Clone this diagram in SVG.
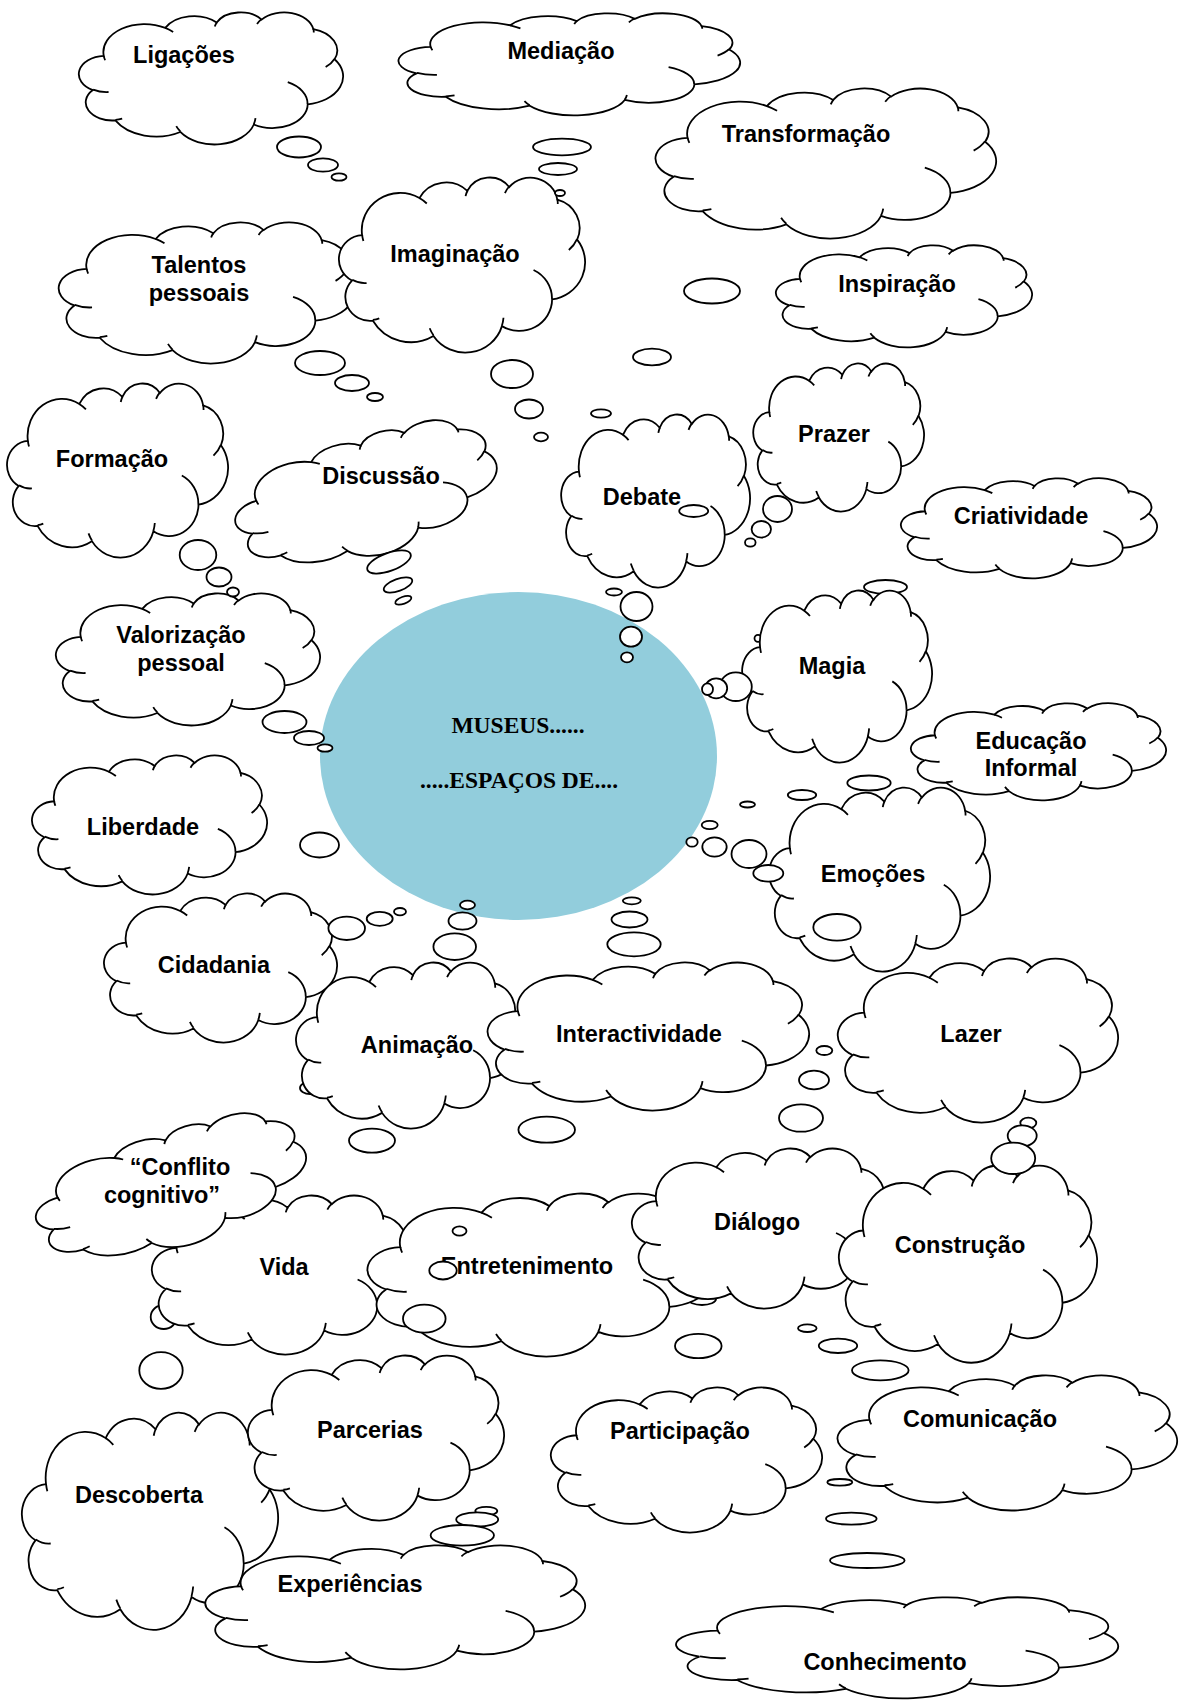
<svg xmlns="http://www.w3.org/2000/svg" xmlns:xlink="http://www.w3.org/1999/xlink" width="1184" height="1702" viewBox="0 0 1184 1702">
<style>
.lb{font-family:"Liberation Sans",Arial,Helvetica,sans-serif;font-weight:700;font-size:23.5px;text-anchor:middle;fill:#000}
.ms{font-family:"Liberation Serif","Times New Roman",serif;font-weight:700;font-size:23.5px;text-anchor:middle;fill:#000}
.t{fill:#fff;stroke:#000;stroke-width:1.8}
</style>
<defs>
<g id="cloud">
<path fill="#fff" stroke="#000" stroke-width="1.8" vector-effect="non-scaling-stroke" d="M9.03,33.26A15.63,21.27 0 0 1 32.42,12.04A12.34,16.82 0 0 1 51.98,7.95A10.10,13.76 0 0 1 69.06,5.74A11.24,15.27 0 0 1 88.70,12.91A12.34,16.84 0 0 1 96.80,35.79A15.68,21.34 0 0 1 86.58,69.92A13.39,18.21 0 0 1 66.10,85.22A15.63,21.33 0 0 1 38.15,90.89A17.87,24.41 0 0 1 13.44,82.11A10.09,13.70 0 0 1 4.89,59.15A10.06,13.76 0 0 1 9.03,33.26Z"/>
<path fill="none" stroke="#000" stroke-width="1.8" vector-effect="non-scaling-stroke" d="M10.86,60.59A10.06,13.76 0 0 1 5.00,58.75M16.04,80.78A10.09,13.70 0 0 1 13.47,81.67M38.14,90.49A15.63,21.33 0 0 1 36.60,86.45M66.73,80.44A15.63,21.33 0 0 1 66.11,84.86M79.00,53.13A13.39,18.21 0 0 1 86.53,69.65M96.75,35.54A12.34,16.84 0 0 1 93.40,41.74M88.71,12.56A11.24,15.27 0 0 1 88.89,15.49M67.31,9.15A11.24,15.27 0 0 1 69.03,5.42M51.25,10.93A10.10,13.76 0 0 1 52.08,7.71M32.41,12.02A15.63,21.27 0 0 1 35.42,15.14M9.55,36.55A15.63,21.27 0 0 1 9.03,33.27"/>
</g>
</defs>
<rect width="1184" height="1702" fill="#fff"/>

<g id="museus">
<ellipse cx="518.5" cy="756" rx="198.5" ry="164" fill="#92CDDC"/>
<text class="ms" x="518" y="733">MUSEUS......</text>
<text class="ms" x="519" y="788">.....ESPAÇOS DE....</text>
</g>

<g id="connectors-back">
<ellipse class="t" cx="885.5" cy="587" rx="21.5" ry="7"/>
<ellipse class="t" cx="758" cy="638.3" rx="3.5" ry="3.5"/>
<ellipse class="t" cx="310" cy="1088" rx="10" ry="6"/>
<ellipse class="t" cx="163.7" cy="1317" rx="13" ry="12"/>
<ellipse class="t" cx="702" cy="1299" rx="14" ry="6"/>
</g>

<g id="ligacoes"><use xlink:href="#cloud" transform="translate(80,12) scale(2.63,1.32)"/><text class="lb" x="184" y="63">Ligações</text></g>
<g id="mediacao"><use xlink:href="#cloud" transform="translate(400,13) scale(3.40,1.02)"/><text class="lb" x="561" y="59">Mediação</text></g>
<g id="transformacao"><use xlink:href="#cloud" transform="translate(657,88) scale(3.39,1.50)"/><text class="lb" x="806" y="142">Transformação</text></g>
<g id="talentos"><use xlink:href="#cloud" transform="translate(60,222) scale(2.95,1.41)"/><text class="lb" x="199" y="273">Talentos</text><text class="lb" x="199" y="301">pessoais</text></g>
<g id="imaginacao"><use xlink:href="#cloud" transform="translate(340,177) scale(2.45,1.75)"/><text class="lb" x="455" y="262">Imaginação</text></g>
<g id="inspiracao"><use xlink:href="#cloud" transform="translate(777,245) scale(2.55,1.02)"/><text class="lb" x="897" y="292">Inspiração</text></g>
<g id="formacao"><use xlink:href="#cloud" transform="translate(8,383) scale(2.20,1.74)"/><text class="lb" x="112" y="467">Formação</text></g>
<g id="discussao"><use xlink:href="#cloud" transform="translate(367,496) rotate(-13) translate(-133,-60) scale(2.66,1.20)"/><text class="lb" x="381" y="484">Discussão</text></g>
<g id="debate"><use xlink:href="#cloud" transform="translate(562,414) scale(1.88,1.73)"/><text class="lb" x="642" y="505">Debate</text></g>
<g id="prazer"><use xlink:href="#cloud" transform="translate(754,363) scale(1.70,1.48)"/><text class="lb" x="834" y="442">Prazer</text></g>
<g id="criatividade"><use xlink:href="#cloud" transform="translate(902,478) scale(2.55,1.00)"/><text class="lb" x="1021" y="524">Criatividade</text></g>
<g id="valorizacao"><use xlink:href="#cloud" transform="translate(57,593) scale(2.63,1.32)"/><text class="lb" x="181" y="643">Valorização</text><text class="lb" x="181" y="671">pessoal</text></g>
<g id="magia"><use xlink:href="#cloud" transform="translate(743,590) scale(1.89,1.72)"/><text class="lb" x="832" y="674">Magia</text></g>
<g id="educacao"><use xlink:href="#cloud" transform="translate(912,703) scale(2.54,0.97)"/><text class="lb" x="1031" y="749">Educação</text><text class="lb" x="1031" y="776">Informal</text></g>
<g id="liberdade"><use xlink:href="#cloud" transform="translate(33,755) scale(2.34,1.39)"/><text class="lb" x="143" y="835">Liberdade</text></g>
<g id="cidadania"><use xlink:href="#cloud" transform="translate(105,893) scale(2.32,1.49)"/><text class="lb" x="214" y="973">Cidadania</text></g>
<g id="emocoes"><use xlink:href="#cloud" transform="translate(770,787) scale(2.20,1.84)"/><text class="lb" x="873" y="882">Emoções</text></g>
<g id="animacao"><use xlink:href="#cloud" transform="translate(297,962) scale(2.23,1.66)"/><text class="lb" x="417" y="1053">Animação</text></g>
<g id="interactividade"><use xlink:href="#cloud" transform="translate(489,962) scale(3.20,1.48)"/><text class="lb" x="639" y="1042">Interactividade</text></g>
<g id="lazer"><use xlink:href="#cloud" transform="translate(839,958) scale(2.79,1.64)"/><text class="lb" x="971" y="1042">Lazer</text></g>
<g id="vida"><use xlink:href="#cloud" transform="translate(153,1195) scale(2.59,1.59)"/><text class="lb" x="284" y="1275">Vida</text></g>
<g id="conflito"><use xlink:href="#cloud" transform="translate(172,1189) rotate(-14) translate(-138,-58) scale(2.76,1.16)"/><text class="lb" x="180" y="1175">“Conflito</text><text class="lb" x="162" y="1203">cognitivo”</text></g>
<g id="entretenimento"><use xlink:href="#cloud" transform="translate(369,1193) scale(3.47,1.63)"/><text class="lb" x="527" y="1274">Entretenimento</text></g>
<g id="dialogo"><use xlink:href="#cloud" transform="translate(633,1148) scale(2.57,1.60)"/><text class="lb" x="757" y="1230">Diálogo</text></g>
<g id="construcao"><use xlink:href="#cloud" transform="translate(840,1165) scale(2.57,1.97)"/><text class="lb" x="960" y="1253">Construção</text></g>
<g id="descoberta"><use xlink:href="#cloud" transform="translate(23,1412) scale(2.55,2.17)"/><text class="lb" x="139" y="1503">Descoberta</text></g>
<g id="parcerias"><use xlink:href="#cloud" transform="translate(249,1355) scale(2.55,1.65)"/><text class="lb" x="370" y="1438">Parcerias</text></g>
<g id="participacao"><use xlink:href="#cloud" transform="translate(552,1387) scale(2.70,1.45)"/><text class="lb" x="680" y="1439">Participação</text></g>
<g id="comunicacao"><use xlink:href="#cloud" transform="translate(839,1375) scale(3.38,1.35)"/><text class="lb" x="980" y="1427">Comunicação</text></g>
<g id="experiencias"><use xlink:href="#cloud" transform="translate(207,1545) scale(3.78,1.24)"/><text class="lb" x="350" y="1592">Experiências</text></g>
<g id="conhecimento"><use xlink:href="#cloud" transform="translate(678,1597) scale(4.40,1.01)"/><text class="lb" x="885" y="1670">Conhecimento</text></g>

<g id="connectors">
<ellipse class="t" cx="299" cy="147" rx="22" ry="10.5"/>
<ellipse class="t" cx="323" cy="165" rx="15" ry="6.7"/>
<ellipse class="t" cx="339" cy="177" rx="7.5" ry="3.7"/>
<ellipse class="t" cx="320" cy="363" rx="25" ry="12"/>
<ellipse class="t" cx="352" cy="383" rx="17" ry="8"/>
<ellipse class="t" cx="375" cy="397" rx="8" ry="4"/>
<ellipse class="t" cx="562" cy="147" rx="29" ry="8.3"/>
<ellipse class="t" cx="558" cy="169" rx="19" ry="6"/>
<ellipse class="t" cx="560" cy="193" rx="5" ry="3"/>
<ellipse class="t" cx="712" cy="291" rx="28" ry="12.5"/>
<ellipse class="t" cx="652" cy="357" rx="19" ry="8.3"/>
<ellipse class="t" cx="601" cy="413.5" rx="10" ry="4.2"/>
<ellipse class="t" cx="512" cy="374" rx="21" ry="14"/>
<ellipse class="t" cx="529" cy="409" rx="14" ry="9.5"/>
<ellipse class="t" cx="541" cy="437" rx="7" ry="4.3"/>
<ellipse class="t" cx="198" cy="555" rx="18.3" ry="15"/>
<ellipse class="t" cx="219" cy="577" rx="12.5" ry="9.5"/>
<ellipse class="t" cx="233" cy="592" rx="6" ry="4.5"/>
<ellipse class="t" cx="389" cy="562" rx="23" ry="9" transform="rotate(-20 389 562)"/>
<ellipse class="t" cx="398" cy="585" rx="15" ry="6" transform="rotate(-20 398 585)"/>
<ellipse class="t" cx="403.3" cy="600.3" rx="8.5" ry="3.5" transform="rotate(-20 403.3 600.3)"/>
<ellipse class="t" cx="284.5" cy="722" rx="22" ry="11"/>
<ellipse class="t" cx="309" cy="738" rx="15" ry="7"/>
<ellipse class="t" cx="325" cy="748" rx="7.5" ry="3.7"/>
<ellipse class="t" cx="319.5" cy="845" rx="19.5" ry="12.5"/>
<ellipse class="t" cx="693.7" cy="511" rx="14.5" ry="6"/>
<ellipse class="t" cx="614" cy="592" rx="8" ry="3.5"/>
<ellipse class="t" cx="636.5" cy="606.5" rx="16" ry="14.5"/>
<ellipse class="t" cx="631" cy="636.7" rx="11" ry="10"/>
<ellipse class="t" cx="627" cy="657.3" rx="6" ry="5"/>
<ellipse class="t" cx="777.5" cy="509" rx="14.5" ry="13"/>
<ellipse class="t" cx="761.3" cy="529.3" rx="9.7" ry="8.3"/>
<ellipse class="t" cx="750.3" cy="542.5" rx="5.3" ry="4.2"/>
<ellipse class="t" cx="735.8" cy="686.7" rx="16" ry="14.3"/>
<ellipse class="t" cx="716.2" cy="688.3" rx="11" ry="10"/>
<ellipse class="t" cx="707.5" cy="689.2" rx="5.5" ry="5.8"/>
<ellipse class="t" cx="747.5" cy="804.5" rx="7.5" ry="3"/>
<ellipse class="t" cx="709.7" cy="825" rx="8" ry="4.2"/>
<ellipse class="t" cx="692" cy="842" rx="5.7" ry="4.7"/>
<ellipse class="t" cx="714.5" cy="847" rx="12.2" ry="9.7"/>
<ellipse class="t" cx="749" cy="854" rx="17.5" ry="14"/>
<ellipse class="t" cx="768.3" cy="873.3" rx="15" ry="8.3"/>
<ellipse class="t" cx="837" cy="927.3" rx="23.7" ry="13.3"/>
<ellipse class="t" cx="869" cy="783" rx="21.7" ry="7.5"/>
<ellipse class="t" cx="802" cy="795" rx="14.2" ry="5"/>
<ellipse class="t" cx="346.7" cy="928.3" rx="18.3" ry="11.7"/>
<ellipse class="t" cx="379.7" cy="918.8" rx="13" ry="7"/>
<ellipse class="t" cx="400" cy="911.7" rx="6" ry="3.7"/>
<ellipse class="t" cx="467.5" cy="905" rx="7.5" ry="4.3"/>
<ellipse class="t" cx="462.5" cy="921" rx="14" ry="8.7"/>
<ellipse class="t" cx="454.7" cy="946.7" rx="21.3" ry="13.3"/>
<ellipse class="t" cx="631.8" cy="900.8" rx="9" ry="3.5"/>
<ellipse class="t" cx="629.5" cy="919.5" rx="18" ry="8"/>
<ellipse class="t" cx="634" cy="944.3" rx="26.7" ry="12"/>
<ellipse class="t" cx="546.7" cy="1129.7" rx="28.3" ry="13"/>
<ellipse class="t" cx="372" cy="1140.6" rx="23" ry="12"/>
<ellipse class="t" cx="824.3" cy="1050.5" rx="8" ry="4.5"/>
<ellipse class="t" cx="814" cy="1080" rx="15" ry="9.3"/>
<ellipse class="t" cx="801" cy="1118" rx="22" ry="13.7"/>
<ellipse class="t" cx="1028.3" cy="1123" rx="8" ry="5.3"/>
<ellipse class="t" cx="1022.2" cy="1135.8" rx="14.5" ry="10.5"/>
<ellipse class="t" cx="1013.2" cy="1158.3" rx="22" ry="15.7"/>
<ellipse class="t" cx="459.5" cy="1231" rx="7" ry="4.7"/>
<ellipse class="t" cx="443" cy="1270.5" rx="13.7" ry="9"/>
<ellipse class="t" cx="161" cy="1370.5" rx="21.7" ry="18.3"/>
<ellipse class="t" cx="424.3" cy="1318.7" rx="21.3" ry="14"/>
<ellipse class="t" cx="698.3" cy="1346" rx="23.3" ry="12.2"/>
<ellipse class="t" cx="486.3" cy="1511" rx="11" ry="4.2"/>
<ellipse class="t" cx="477.2" cy="1519.5" rx="21" ry="7.2"/>
<ellipse class="t" cx="462.3" cy="1535.3" rx="31.7" ry="10.3"/>
<ellipse class="t" cx="807.3" cy="1328.2" rx="9.3" ry="3.8"/>
<ellipse class="t" cx="838" cy="1345.8" rx="19.2" ry="7.2"/>
<ellipse class="t" cx="880.3" cy="1370.3" rx="28.3" ry="10"/>
<ellipse class="t" cx="839.8" cy="1482.3" rx="12.5" ry="3.3"/>
<ellipse class="t" cx="851.3" cy="1518.7" rx="25.3" ry="6"/>
<ellipse class="t" cx="867.3" cy="1560.5" rx="37.3" ry="7.5"/>
</g>
</svg>
